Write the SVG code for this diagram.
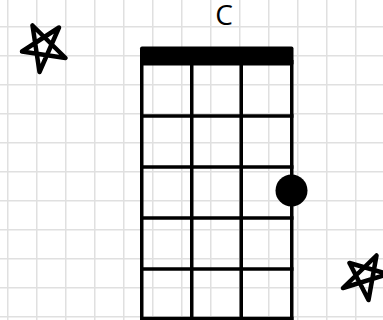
<svg xmlns="http://www.w3.org/2000/svg" width="383" height="320" viewBox="0 0 383 320">
  <defs>
    <pattern id="grid" x="7" y="26" width="29" height="29" patternUnits="userSpaceOnUse">
      <path d="M0 0 V29 M0 0 H29" fill="none" stroke="#e0e0e0" stroke-width="3"/>
    </pattern>
    <style>
      .star { fill: none; stroke: #000; stroke-width: 4.5; stroke-linejoin: round; stroke-linecap: round; }
      .string { stroke: #000; stroke-width: 3.5; }
      .fret { stroke: #000; stroke-width: 3.5; }
      .title { font-family: "Open Sans", "Liberation Sans", sans-serif; font-size: 28px; fill: #000; }
    </style>
  </defs>
  <rect width="383" height="320" fill="#fff"/>
  <rect width="383" height="320" fill="url(#grid)"/>

  <g id="title">
    <text class="title" x="224" y="25" text-anchor="middle">C</text>
  </g>

  <g id="star-top-left">
    <path class="star" d="M32.5 25.5 L65.5 58 L22 51.5 L59 27.5 L39.5 72 L32.5 25.5"/>
  </g>

  <g id="star-bottom-right">
    <path class="star" d="M349.5 263 L388 274 L343 288 L376.5 255.5 L368.5 300 L349.5 263"/>
  </g>

  <g id="fretboard">
    <rect x="140" y="46.5" width="153.5" height="19" rx="2" fill="#000"/>
    <line class="string" x1="141.75" y1="60" x2="141.75" y2="320"/>
    <line class="string" x1="191.75" y1="60" x2="191.75" y2="320"/>
    <line class="string" x1="241.25" y1="60" x2="241.25" y2="320"/>
    <line class="string" x1="291.75" y1="60" x2="291.75" y2="320"/>
    <line class="fret" x1="140" y1="116" x2="293.5" y2="116"/>
    <line class="fret" x1="140" y1="167" x2="293.5" y2="167"/>
    <line class="fret" x1="140" y1="218" x2="293.5" y2="218"/>
    <line class="fret" x1="140" y1="269" x2="293.5" y2="269"/>
    <line class="fret" x1="140" y1="318.5" x2="293.5" y2="318.5"/>
  </g>

  <g id="finger-dot">
    <circle cx="291.5" cy="190.5" r="16" fill="#000"/>
  </g>
</svg>
